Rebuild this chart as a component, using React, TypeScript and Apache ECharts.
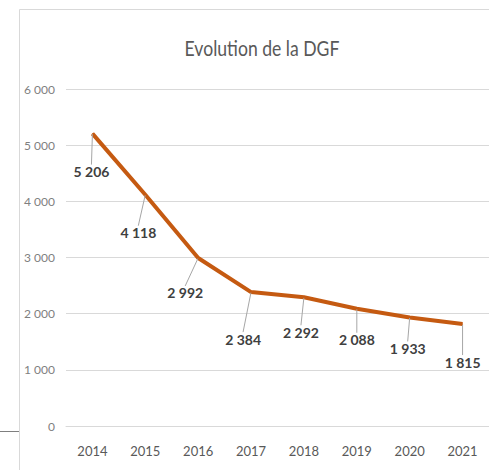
import React, { useEffect, useRef } from "react";
import * as echarts from "echarts";

const categories = ["2014", "2015", "2016", "2017", "2018", "2019", "2020", "2021"];
const dgfValues = [5206, 4118, 2992, 2384, 2292, 2088, 1933, 1815];
const yTicks = [0, 1000, 2000, 3000, 4000, 5000, 6000];
const chartTitle = "Evolution de la DGF";

// label offsets relative to each point (styling only)
const labelDx = [-1, -7, -13, -8, -3, 0, -2, 0];
const labelDy = [38, 38, 35, 47, 35, 31, 31, 38];

const fmt = (v: number) => String(v).replace(/\B(?=(\d{3})+(?!\d))/g, " ");
const FONT = "Lato, 'Open Sans', Roboto, sans-serif";

export default function App() {
  const ref = useRef<HTMLDivElement>(null);
  useEffect(() => {
    if (!ref.current) return;
    const chart = echarts.init(ref.current, null, { renderer: "svg" });
    chart.setOption({
      animation: false,
      backgroundColor: "#ffffff",
      graphic: [
        {
          type: "rect",
          shape: { x: 19.5, y: 9.5, width: 520, height: 520 },
          style: { fill: "none", stroke: "#d9d9d9", lineWidth: 1 },
          silent: true,
        },
        {
          type: "line",
          shape: { x1: 0, y1: 431.5, x2: 19, y2: 431.5 },
          style: { stroke: "#7f7f7f", lineWidth: 1 },
          silent: true,
        },
        {
          type: "text",
          x: 262,
          y: 47,
          scaleX: 0.8,
          silent: true,
          style: {
            text: chartTitle,
            fontFamily: FONT,
            fontSize: 22,
            fill: "#595959",
            align: "center",
            verticalAlign: "middle",
          },
        },
      ],
      grid: { left: 66, right: 0, top: 89, bottom: 44 },
      xAxis: {
        type: "category",
        data: categories,
        boundaryGap: true,
        axisLine: { show: true, lineStyle: { color: "#d9d9d9" } },
        axisTick: { show: false },
        axisLabel: { fontFamily: FONT, fontSize: 13, color: "#595959", margin: 18 },
      },
      yAxis: {
        type: "value",
        min: yTicks[0],
        max: yTicks[yTicks.length - 1],
        interval: 1000,
        axisLine: { show: false },
        axisTick: { show: false },
        splitLine: { lineStyle: { color: "#d9d9d9", width: 1 } },
        axisLabel: {
          fontFamily: FONT,
          fontSize: 12,
          color: "#7f7f7f",
          margin: 11,
          formatter: (v: number) => fmt(v),
        },
      },
      series: [
        {
          type: "line",
          data: dgfValues,
          symbol: "circle",
          symbolSize: 1,
          showSymbol: true,
          lineStyle: { color: "#c55a11", width: 4 },
          itemStyle: { color: "#c55a11" },
          label: {
            show: true,
            position: "inside",
            fontFamily: FONT,
            fontSize: 14,
            fontWeight: "bold",
            color: "#404040",
            formatter: (p: any) => fmt(p.value),
          },
          labelLine: { show: true, lineStyle: { color: "#a6a6a6", width: 1 } },
          labelLayout: (p: any) => {
            const cx = p.rect.x + p.rect.width / 2;
            const cy = p.rect.y + p.rect.height / 2;
            return {
              x: cx + labelDx[p.dataIndex],
              y: cy + labelDy[p.dataIndex],
              align: "center",
              verticalAlign: "middle",
            };
          },
        },
      ],
    });
    return () => chart.dispose();
  }, []);
  return (
    <div
      ref={ref}
      style={{ position: "fixed", left: 0, top: 0, width: 489, height: 470 }}
    />
  );
}
